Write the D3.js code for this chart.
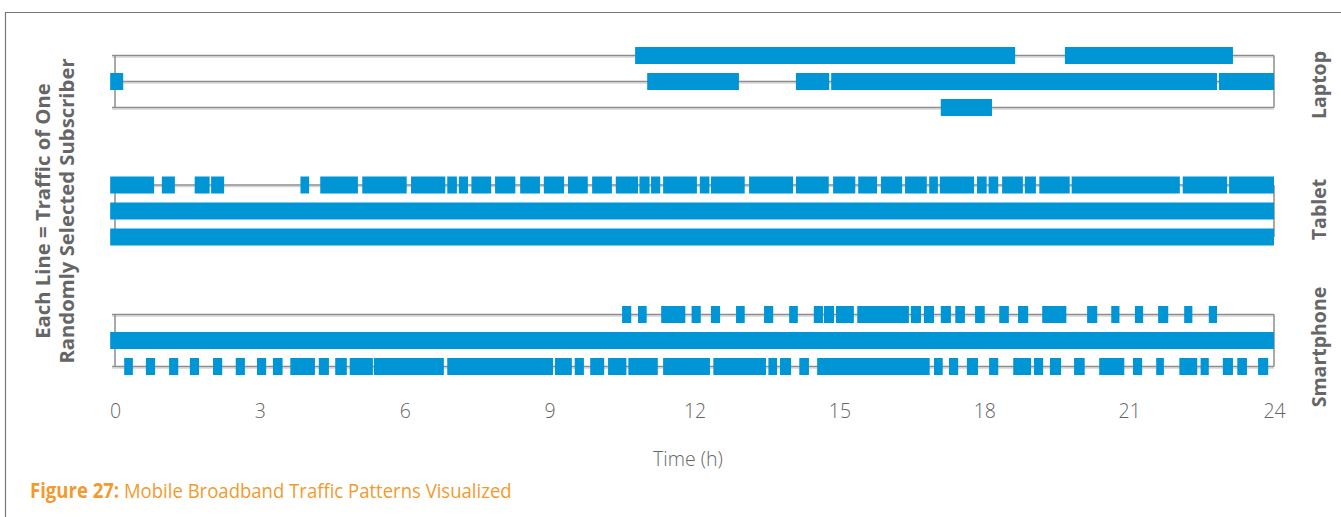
<!DOCTYPE html>
<html><head><meta charset="utf-8">
<script src="https://cdn.jsdelivr.net/npm/d3@7"></script>
<style>
html,body{margin:0;padding:0;background:#fff;}
svg{display:block;font-family:"Open Sans","Noto Sans",sans-serif;}
</style></head><body>
<svg id="chart" width="1341" height="517"></svg>
<script>
// ---------- data (hours of day, [start, end] of each traffic session) ----------
const devices = ["Laptop", "Tablet", "Smartphone"];
const hourTicks = [0, 3, 6, 9, 12, 15, 18, 21, 24];
const xTitle = "Time (h)";
const yTitle = ["Each Line = Traffic of One", "Randomly Selected Subscriber"];
const captionBold = "Figure 27:";
const captionText = " Mobile Broadband Traffic Patterns Visualized";

const laptopUser1 = [[10.77, 18.64], [19.67, 23.15]];
const laptopUser2 = [[-0.10, 0.17], [11.02, 12.92], [14.10, 14.79], [14.83, 22.82], [22.86, 24.0]];
const laptopUser3 = [[17.10, 18.16]];

const tabletUser1 = [[-0.10, 0.81], [0.97, 1.24], [1.65, 1.96], [1.99, 2.26], [3.84, 4.02], [4.25, 5.03],
  [5.12, 6.04], [6.13, 6.84], [6.88, 7.08], [7.12, 7.31], [7.38, 7.79], [7.87, 8.29], [8.39, 8.80],
  [8.88, 9.30], [9.38, 9.79], [9.88, 10.29], [10.37, 10.83], [10.86, 11.07], [11.10, 11.29],
  [11.35, 12.05], [12.11, 12.31], [12.34, 13.04], [13.13, 14.04], [14.10, 14.78], [14.87, 15.33],
  [15.39, 15.78], [15.86, 16.30], [16.36, 16.81], [16.86, 17.04], [17.08, 17.79], [17.85, 18.05],
  [18.09, 18.29], [18.37, 18.80], [18.84, 19.07], [19.14, 19.77], [19.81, 22.05], [22.11, 23.03],
  [23.07, 24.0]];
const tabletUser2 = [[-0.10, 24.0]];
const tabletUser3 = [[-0.10, 24.0]];

const phoneUser1 = [[10.50, 10.69], [10.83, 11.01], [11.31, 11.81], [11.94, 12.13], [12.34, 12.53],
  [12.86, 13.04], [13.44, 13.63], [13.96, 14.14], [14.47, 14.66], [14.68, 14.89], [14.93, 15.30],
  [15.37, 16.44], [16.48, 16.69], [16.75, 16.96], [17.10, 17.31], [17.40, 17.60], [17.81, 18.01],
  [18.31, 18.51], [18.70, 18.91], [19.20, 19.70], [20.13, 20.34], [20.63, 20.80], [21.12, 21.29],
  [21.60, 21.81], [22.14, 22.31], [22.65, 22.82]];
const phoneUser2 = [[-0.10, 24.0]];
const phoneUser3 = [[0.19, 0.37], [0.64, 0.83], [1.12, 1.31], [1.55, 1.74], [2.03, 2.22], [2.50, 2.69],
  [2.94, 3.13], [3.27, 3.47], [3.63, 4.14], [4.22, 4.43], [4.56, 4.80], [4.86, 5.34], [5.36, 6.81],
  [6.88, 9.07], [9.11, 9.46], [9.52, 9.71], [9.84, 10.13], [10.21, 10.59], [10.63, 11.24],
  [11.35, 12.32], [12.39, 13.48], [13.53, 13.71], [13.77, 14.00], [14.17, 14.37], [14.54, 16.87],
  [16.96, 17.14], [17.27, 17.46], [17.64, 17.87], [18.10, 18.29], [18.60, 18.97], [19.03, 19.22],
  [19.36, 19.59], [19.86, 20.08], [20.38, 20.90], [21.08, 21.27], [21.56, 21.72], [22.04, 22.41],
  [22.48, 22.65], [22.94, 23.15], [23.24, 23.44], [23.67, 23.88]];

const sessions = {
  Laptop: [laptopUser1, laptopUser2, laptopUser3],
  Tablet: [tabletUser1, tabletUser2, tabletUser3],
  Smartphone: [phoneUser1, phoneUser2, phoneUser3]
};

// ---------- drawing ----------
const svg = d3.select("#chart");
const blue = "#0096d6";
const lineGray = "#8c8c8c";
const textGray = "#666666";

const x = d3.scaleLinear().domain([0, 24]).range([115, 1274]);
const yGroup = d3.scalePoint().domain(devices).range([81.5, 340.5]);
const yRow = d3.scalePoint().domain([0, 1, 2]).range([-26, 26]);
const labelShift = {Laptop: 3.5, Tablet: -1.5, Smartphone: 6.5};
const barH = 17;

// outer frame
svg.append("path").attr("d", "M5.5,517 V12.5 H1341")
  .attr("fill", "none").attr("stroke", "#777").attr("stroke-width", 1.2);

const groups = svg.selectAll("g.device").data(devices).join("g")
  .attr("class", "device")
  .attr("transform", d => `translate(0,${yGroup(d)})`);

groups.each(function (dev) {
  const g = d3.select(this);
  const rows = sessions[dev];
  g.selectAll("line.shadow").data(rows).join("line").attr("class", "shadow")
    .attr("x1", x(-0.06)).attr("x2", x(24))
    .attr("y1", (d, i) => yRow(i) + 1.6).attr("y2", (d, i) => yRow(i) + 1.6)
    .attr("stroke", "#d4d4d4").attr("stroke-width", 1.3);
  g.selectAll("line.base").data(rows).join("line").attr("class", "base")
    .attr("x1", x(-0.06)).attr("x2", x(24))
    .attr("y1", (d, i) => yRow(i)).attr("y2", (d, i) => yRow(i))
    .attr("stroke", lineGray).attr("stroke-width", 1.5);
  g.selectAll("line.edge").data([0, 24]).join("line").attr("class", "edge")
    .attr("x1", d => x(d)).attr("x2", d => x(d))
    .attr("y1", yRow(0)).attr("y2", yRow(2))
    .attr("stroke", lineGray).attr("stroke-width", 1.5);
  rows.forEach((segs, i) => {
    g.append("g").selectAll("rect").data(segs).join("rect")
      .attr("x", d => x(d[0]))
      .attr("width", d => x(d[1]) - x(d[0]))
      .attr("y", yRow(i) - barH / 2)
      .attr("height", barH)
      .attr("fill", blue);
  });
  g.append("text")
    .attr("transform", `translate(1319,${labelShift[dev]}) rotate(-90)`)
    .attr("text-anchor", "middle").attr("dy", "0.36em")
    .attr("font-size", 19.5).attr("font-weight", 700).attr("fill", textGray)
    .text(dev);
});

// x axis (tick labels only)
const axis = d3.axisBottom(x).tickValues(hourTicks).tickSize(0).tickPadding(0).tickFormat(d3.format("d"));
const ax = svg.append("g").attr("transform", "translate(0,404)").call(axis);
ax.select(".domain").remove();
ax.selectAll("text").attr("font-size", 19.5).attr("font-weight", 300)
  .attr("fill", textGray).attr("font-family", "'Open Sans','Noto Sans',sans-serif");

svg.append("text").attr("x", 688).attr("y", 466).attr("text-anchor", "middle")
  .attr("font-size", 19.5).attr("font-weight", 300).attr("fill", textGray).text(xTitle);

// y title
const yt = svg.append("text").attr("transform", "translate(0,211) rotate(-90)")
  .attr("text-anchor", "middle").attr("font-size", 20.3).attr("font-weight", 700).attr("fill", textGray);
yt.selectAll("tspan").data(yTitle).join("tspan")
  .attr("x", 0).attr("y", (d, i) => [50, 74][i]).text(d => d);

// caption (condensed to reference width)
const cap = svg.append("g").attr("transform", "translate(30,498)");
const capText = cap.append("text").attr("font-size", 20.5).attr("fill", "#f39a2e");
capText.append("tspan").attr("font-weight", 700).text(captionBold);
capText.append("tspan").attr("font-weight", 400).text(captionText);
const w = capText.node().getComputedTextLength();
capText.attr("transform", `scale(${482 / w},1)`);
</script>
</body></html>
